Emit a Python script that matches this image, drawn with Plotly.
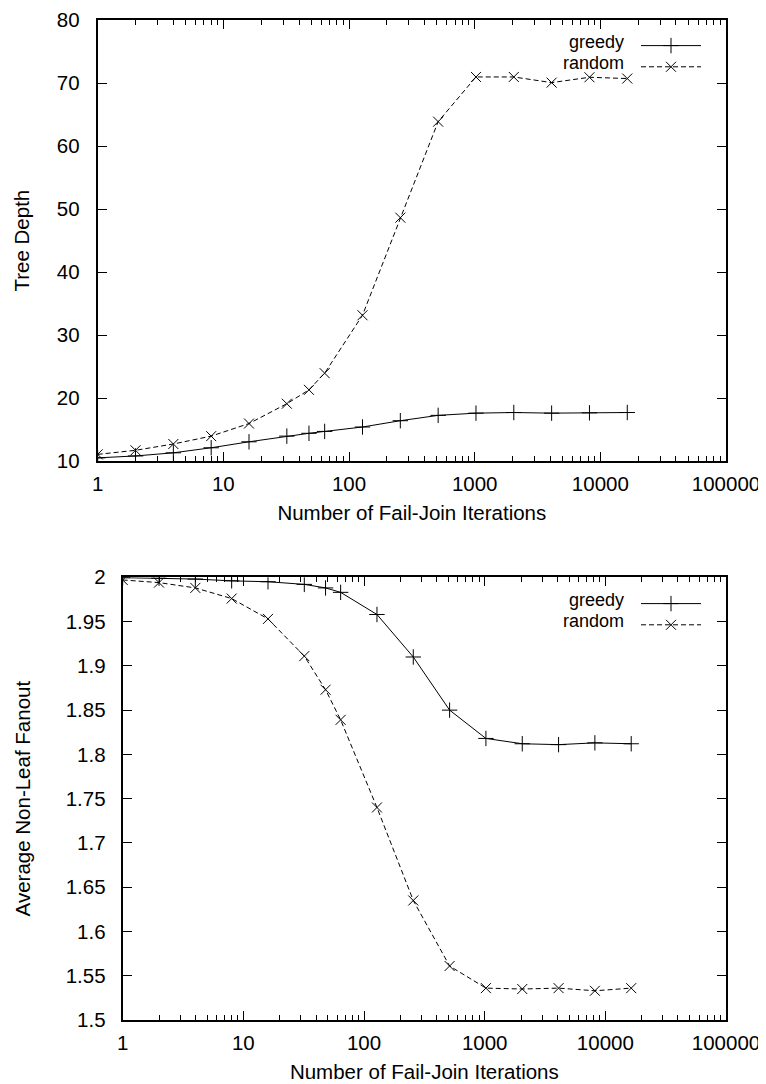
import plotly.graph_objects as go

# ---- data ----
iterations = [1, 2, 4, 8, 16, 32, 48, 64, 128, 256, 512, 1024, 2048, 4096, 8192, 16384]

depth_greedy = [10.5, 10.8, 11.3, 12.1, 13.05, 13.95, 14.4, 14.7, 15.4, 16.4, 17.25, 17.6, 17.7, 17.6, 17.65, 17.7]
depth_random = [11.05, 11.7, 12.7, 13.95, 15.95, 19.1, 21.3, 23.95, 33.15, 48.65, 63.9, 71.0, 71.0, 70.1, 70.95, 70.75]

fanout_greedy = [1.9996, 1.999, 1.998, 1.996, 1.995, 1.992, 1.988, 1.983, 1.958, 1.910, 1.850, 1.818, 1.812, 1.811, 1.813, 1.812]
fanout_random = [1.997, 1.994, 1.988, 1.976, 1.953, 1.911, 1.873, 1.839, 1.740, 1.635, 1.561, 1.536, 1.535, 1.536, 1.533, 1.536]

series_names = ["greedy", "random"]

x_tickvals = [1, 10, 100, 1000, 10000, 100000]
x_ticktext = ["1", "10", "100", "1000", "10000", "100000"]
x_minor = [m * d for d in [1, 10, 100, 1000, 10000] for m in range(2, 10)]

depth_ticks = [10, 20, 30, 40, 50, 60, 70, 80]
fanout_ticks = [1.5, 1.55, 1.6, 1.65, 1.7, 1.75, 1.8, 1.85, 1.9, 1.95, 2.0]
fanout_ticktext = ["1.5", "1.55", "1.6", "1.65", "1.7", "1.75", "1.8", "1.85", "1.9", "1.95", "2"]

x_title = "Number of Fail-Join Iterations"
y_titles = ["Tree Depth", "Average Non-Leaf Fanout"]

# ---- layout geometry (pixels of the 766x1084 page; the page body adds an 8px margin) ----
OFF = 8
W, H = 766 - OFF, 1084 - OFF
FONT = "Liberation Sans, Arial, sans-serif"
FS = 20.5
LEG_FS = 18
ROW = 21


def px_x(p):
    return (p - OFF) / W


def px_y(p):
    return 1 - (p - OFF) / H


top_dom_x = [px_x(97.7), px_x(726)]
top_dom_y = [px_y(461), px_y(20.3)]
bot_dom_x = [px_x(122.7), px_x(726)]
bot_dom_y = [px_y(1020), px_y(577.3)]

fig = go.Figure()

styles = {
    "greedy": dict(line=dict(color="black", width=1), marker=dict(symbol="cross-thin-open", size=11, line=dict(color="black", width=1))),
    "random": dict(line=dict(color="black", width=1, dash="5px,3px"), marker=dict(symbol="x-thin-open", size=10, line=dict(color="black", width=1))),
}

for (yv, xa, ya, lg) in [
    ((depth_greedy, depth_random), "x", "y", "legend"),
    ((fanout_greedy, fanout_random), "x2", "y2", "legend2"),
]:
    for name, vals in zip(series_names, yv):
        fig.add_trace(go.Scatter(
            x=iterations, y=vals, mode="lines+markers", name="",
            xaxis=xa, yaxis=ya, legend=lg, showlegend=True,
            hovertemplate=name + ": %{x}, %{y}<extra></extra>",
            **styles[name],
        ))

axis_common = dict(
    showline=True, linecolor="black", linewidth=2, mirror="ticks",
    ticks="inside", ticklen=9, tickwidth=1.3, tickcolor="black",
    showgrid=False, zeroline=False, automargin=False,
    ticklabeloverflow="allow",
    tickfont=dict(family=FONT, size=FS, color="black"),
)

xaxis_common = dict(
    axis_common, type="log", range=[0, 5],
    tickvals=x_tickvals, ticktext=x_ticktext,
    minor=dict(ticks="inside", ticklen=5, tickwidth=1, tickcolor="black", tickvals=x_minor, showgrid=False),
    title=dict(text=x_title, font=dict(family=FONT, size=FS, color="black"), standoff=12),
    ticklabelstandoff=3,
)

fig.update_layout(
    width=W, height=H,
    margin=dict(l=0, r=0, t=0, b=0),
    paper_bgcolor="white", plot_bgcolor="white",
    font=dict(family=FONT, size=FS, color="black"),
    xaxis=dict(xaxis_common, domain=top_dom_x, anchor="y"),
    yaxis=dict(axis_common, domain=top_dom_y, anchor="x", range=[10, 80],
               tickvals=depth_ticks, ticklabelstandoff=12,
               title=dict(text=y_titles[0], font=dict(family=FONT, size=FS, color="black"), standoff=22)),
    xaxis2=dict(xaxis_common, domain=bot_dom_x, anchor="y2"),
    yaxis2=dict(axis_common, domain=bot_dom_y, anchor="x2", range=[1.5, 2.0],
                tickvals=fanout_ticks, ticktext=fanout_ticktext, ticklabelstandoff=11,
                title=dict(text=y_titles[1], font=dict(family=FONT, size=FS, color="black"), standoff=30)),
    legend=dict(x=px_x(711), xanchor="right", y=px_y(30), yanchor="top",
                bgcolor="rgba(0,0,0,0)", itemwidth=60, tracegroupgap=0,
                font=dict(family=FONT, size=14)),
    legend2=dict(x=px_x(711), xanchor="right", y=px_y(588), yanchor="top",
                 bgcolor="rgba(0,0,0,0)", itemwidth=60, tracegroupgap=0,
                 font=dict(family=FONT, size=14)),
)

# legend labels (gnuplot style: text to the left of the sample)
for row, name in enumerate(series_names):
    for y0 in (42, 600):
        fig.add_annotation(
            x=px_x(626), y=px_y(y0 + row * ROW), xref="paper", yref="paper",
            text=name, showarrow=False, xanchor="right", yanchor="middle",
            font=dict(family=FONT, size=LEG_FS, color="black"),
        )

fig.write_html("out.html")
